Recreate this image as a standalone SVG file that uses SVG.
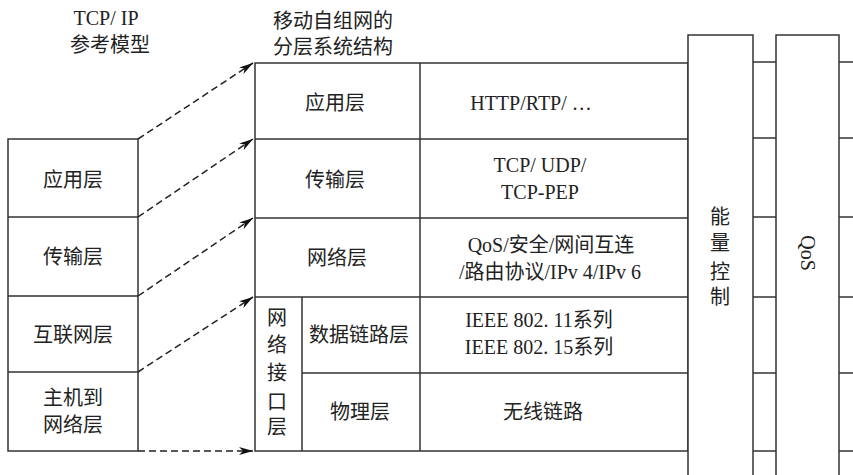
<svg xmlns="http://www.w3.org/2000/svg" width="853" height="475" viewBox="0 0 853 475">
<defs>
<style>
.ln{stroke:#333;stroke-width:1.5;fill:none}
.box{stroke:#333;stroke-width:1.5;fill:#fff}
.da{stroke:#222;stroke-width:1.5;fill:none;stroke-dasharray:7,4}
text{font-family:"Liberation Serif","Noto Sans CJK SC",serif;font-size:20px;fill:#222;text-anchor:middle}
</style>
<marker id="ah" viewBox="0 0 14 8" refX="14" refY="4" markerWidth="14" markerHeight="8" markerUnits="userSpaceOnUse" orient="auto">
<path d="M0,0 L14,4 L0,8 L4,4 Z" fill="#111"/>
</marker>
</defs>
<rect width="853" height="475" fill="#fff"/>
<g id="titles">
<text x="106" y="25">TCP/ IP</text>
<text x="110" y="52">参考模型</text>
<text x="333" y="28">移动自组网的</text>
<text x="333" y="54">分层系统结构</text>
</g>
<g id="tcpip">
<rect class="box" x="8" y="139" width="130" height="312"/>
<path class="ln" d="M8,217H138M8,296H138M8,372H138"/>
<text x="73" y="187">应用层</text>
<text x="73" y="264">传输层</text>
<text x="73" y="342">互联网层</text>
<text x="73" y="405">主机到</text>
<text x="73" y="432">网络层</text>
</g>
<g id="manet">
<rect class="box" x="255" y="63" width="433" height="388"/>
<path class="ln" d="M255,139H688M255,218H688M255,297H688M302,373H688M420,63V451M302,297V451"/>
<text x="335" y="110">应用层</text>
<text x="531" y="110">HTTP/RTP/ …</text>
<text x="335" y="187">传输层</text>
<text x="540" y="172">TCP/ UDP/</text>
<text x="540" y="199">TCP-PEP</text>
<text x="337" y="265">网络层</text>
<text x="551" y="252">QoS/安全/网间互连</text>
<text x="550" y="279">/路由协议/IPv 4/IPv 6</text>
<text x="359" y="342">数据链路层</text>
<text x="539" y="327">IEEE 802. 11系列</text>
<text x="539" y="354">IEEE 802. 15系列</text>
<text x="360" y="419">物理层</text>
<text x="543" y="419">无线链路</text>
<text x="277" y="325">网</text>
<text x="277" y="352">络</text>
<text x="277" y="380">接</text>
<text x="277" y="409">口</text>
<text x="277" y="434">层</text>
</g>
<g id="energy">
<rect class="box" x="688" y="35" width="65" height="445"/>
<text x="720" y="224">能</text>
<text x="720" y="250">量</text>
<text x="720" y="279">控</text>
<text x="720" y="304">制</text>
</g>
<g id="qos">
<rect class="box" x="776" y="35" width="63" height="445"/>
<text transform="translate(807,253) rotate(90)" y="6">QoS</text>
</g>
<g id="connectors">
<path class="ln" d="M753,62H776M753,138H776M753,217H776M753,297H776M753,373H776M753,451H776"/>
<path class="ln" d="M839,62H853M839,138H853M839,217H853M839,297H853M839,373H853M839,451H853"/>
<path class="da" marker-end="url(#ah)" d="M138,139L253,63"/>
<path class="da" marker-end="url(#ah)" d="M138,217L253,139"/>
<path class="da" marker-end="url(#ah)" d="M138,296L253,218"/>
<path class="da" marker-end="url(#ah)" d="M138,372L253,297"/>
<path class="da" marker-end="url(#ah)" d="M138,451L253,451"/>
</g>
</svg>
